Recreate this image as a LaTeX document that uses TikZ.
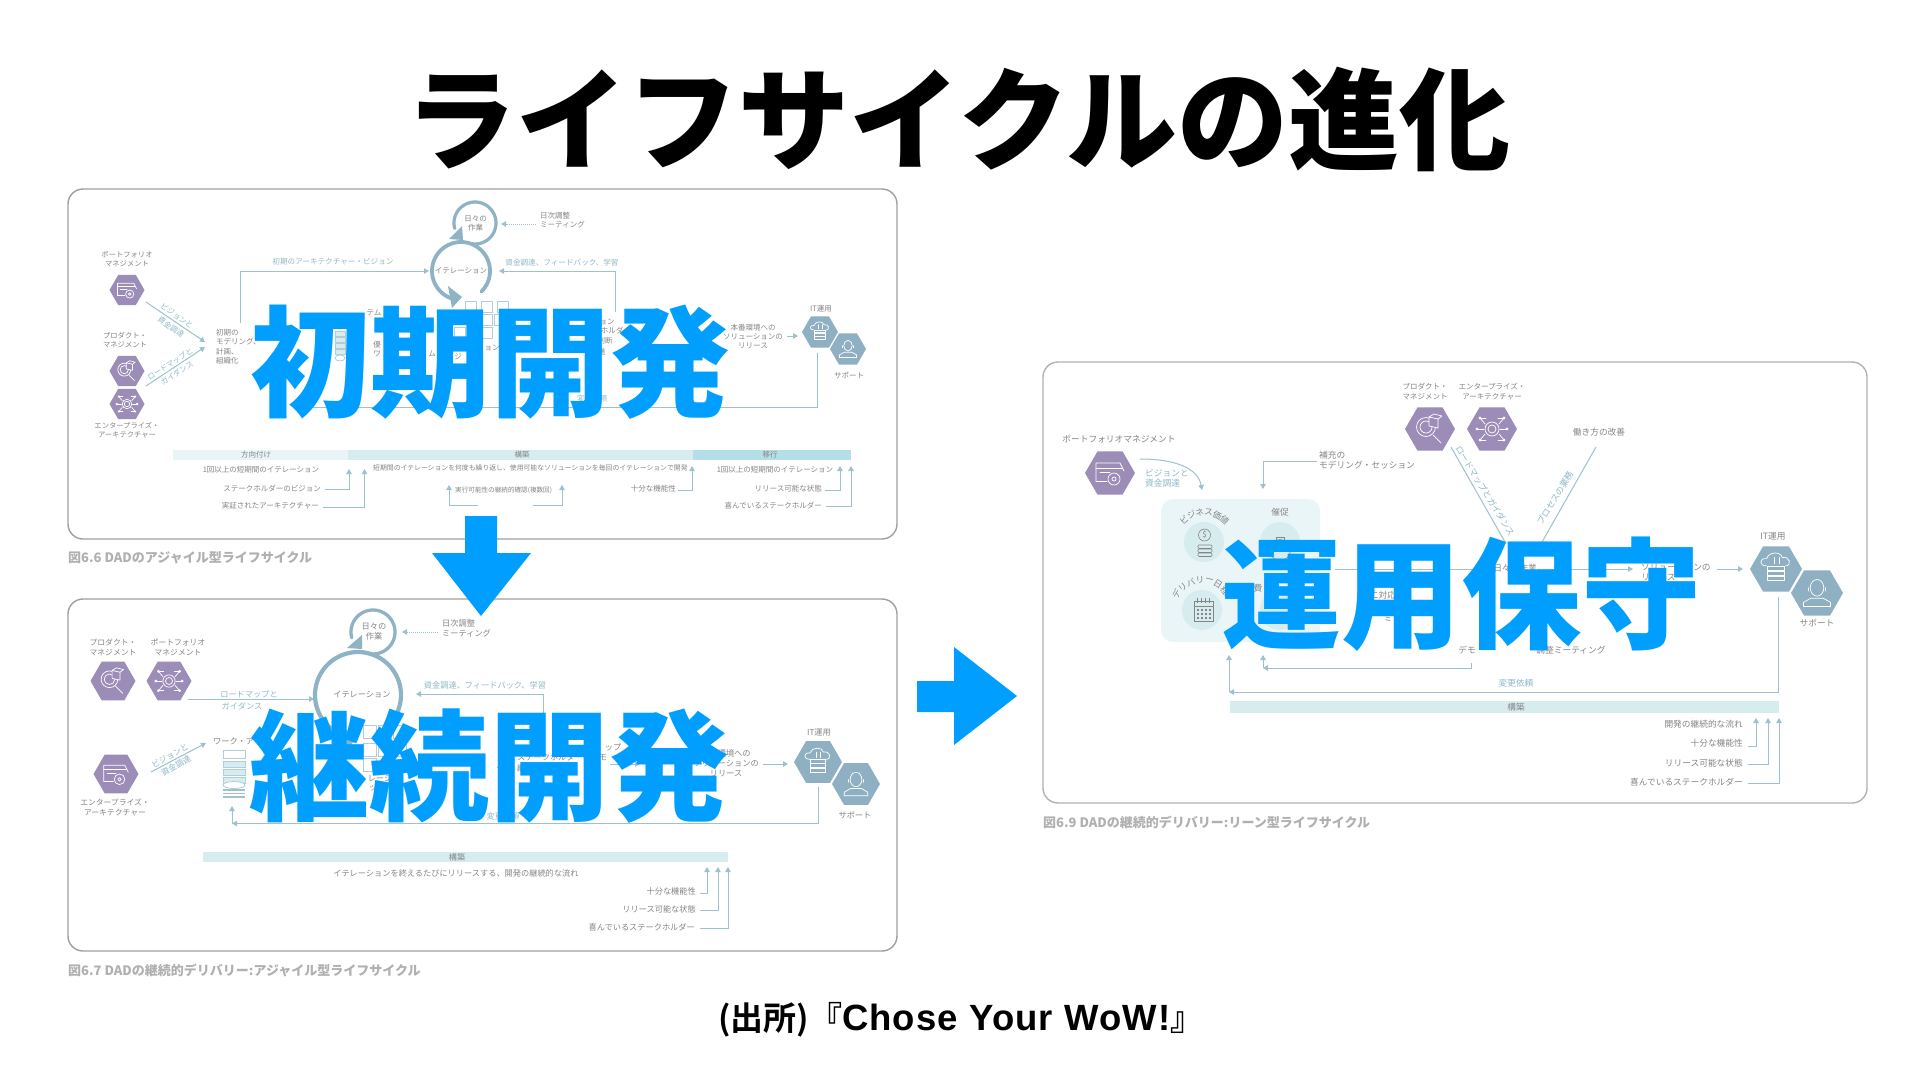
\documentclass[tikz,border=0pt]{standalone}
\usepackage{fontspec}
\usetikzlibrary{arrows.meta,shapes.geometric}
\setmainfont{Noto Sans CJK JP}
\newfontfamily\heavy{Noto Sans CJK JP Black}
\newfontfamily\boldf{Noto Sans CJK JP Bold}
\newfontfamily\latb{Liberation Sans Bold}[LetterSpace=3]
\definecolor{vio}{HTML}{9C8DB8}
\definecolor{steel}{HTML}{8FB0C3}
\definecolor{ln}{HTML}{9DC1CE}
\definecolor{lab}{HTML}{8FB8C8}
\definecolor{gr}{HTML}{858585}
\definecolor{ring}{HTML}{8DB3C5}
\definecolor{bigblue}{HTML}{009FFF}
\definecolor{barA}{HTML}{E8F4F6}
\definecolor{barB}{HTML}{D6ECEF}
\definecolor{barC}{HTML}{B5DFE8}
\definecolor{cap}{HTML}{B0B0B0}
\newcounter{tn}
\tikzset{
 txt/.style={inner sep=0pt,text=gr,align=center},
 sA/.style={txt,font=\fontsize{7.5}{9}\selectfont},
 sB/.style={txt,font=\fontsize{8.2}{10}\selectfont},
 sC/.style={txt,font=\fontsize{8.7}{10}\selectfont},
 nA/.style={txt,font=\fontsize{7.3}{9}\selectfont},
 nB/.style={txt,font=\fontsize{7.8}{10}\selectfont},
 nC/.style={txt,font=\fontsize{7.5}{10}\selectfont},
 lA/.style={sA,text=lab},
 lB/.style={sB,text=lab},
 lC/.style={sC,text=lab},
 panelbox/.style={draw=#1,line width=1.4pt,rounded corners=15pt,fill=white},
 hexv/.style={regular polygon,regular polygon sides=6,fill=vio,inner sep=0pt,minimum size=#1},
 hexs/.style={regular polygon,regular polygon sides=6,fill=steel,inner sep=0pt,minimum size=#1},
 conn/.style={draw=ln,line width=1pt},
 tip/.style={conn,-{Triangle[length=5pt,width=5.5pt]}},
 ic/.style={draw=white,line width=.7pt,line cap=round,line join=round},
 icd/.style={draw=gr,line width=.6pt},
 box/.style={draw=ln!80,line width=.8pt,fill=white},
 bigt/.style={inner sep=0pt,text=bigblue,font=\heavy\fontsize{120}{120}\selectfont},
 captxt/.style={inner sep=0pt,text=cap,anchor=west,font=\heavy\fontsize{13}{14}\selectfont},
}
\newcommand\tx[4][sA]{\stepcounter{tn}\node[#1] (t\arabic{tn}) at (#2,#3) {#4};}
\newcommand\cnA[3][tip]{\stepcounter{tn}\coordinate (a\arabic{tn}) at (#2);\coordinate (b\arabic{tn}) at (#3);\draw[#1] (a\arabic{tn}) -- (b\arabic{tn});}
\newcommand\cnB[4][tip]{\stepcounter{tn}\coordinate (a\arabic{tn}) at (#2);\coordinate (m\arabic{tn}) at (#3);\coordinate (b\arabic{tn}) at (#4);\draw[#1] (a\arabic{tn}) -- (m\arabic{tn}) -- (b\arabic{tn});}
\newcommand\ringarc[6]{\draw[draw=ring,line width=#6pt,line cap=round,domain=#4:#5,samples=60,variable=\t] plot ({#1+#3*cos(\t)},{#2+#3*sin(\t)});}
\newcommand\arctext[6]{\foreach \c [count=\i] in {#6}{\pgfmathsetmacro\aa{#4+(\i-1)*#5}\stepcounter{tn}\node[sC,rotate=-\aa] (t\arabic{tn}) at ({#1+#3*sin(\aa)},{#2-#3*cos(\aa)}) {\c};}}
% icons, drawn for a hexagon 50 wide
\newcommand\icfolder[2]{\begin{scope}[shift={(#1)},scale=#2]
 \draw[ic] (-14,8)--(-14,-10)--(10,-10)--(12,-6)--(14,-2);\draw[ic] (-14,-5)--(12,-5);\draw[ic] (-14,8)--(-3,8);\draw[ic] (-10,-1)--(0,-1);
 \draw[ic,fill=vio] (4,6) circle (6);\draw[ic] (4,6) circle (2);\end{scope}}
\newcommand\icmag[2]{\begin{scope}[shift={(#1)},scale=#2]
 \draw[ic] (-4,-2) circle (9.5);\draw[ic] (-4,-2) circle (6);\draw[ic] (3,6)--(11,14);\draw[ic,fill=vio] (-1,-12)--(8,-10)--(8,-1)--(-1,-3)--cycle;\draw[ic] (-1,-12)--(4,-15)--(12,-13)--(8,-10);\end{scope}}
\newcommand\icchip[2]{\begin{scope}[shift={(#1)},scale=#2]
 \draw[ic] (0,0) circle (4);\draw[ic] (0,0) circle (7);
 \foreach \a/\b/\c/\d in {-7/-5/-12/-11,7/-5/12/-11,-7/5/-12/11,7/5/12/11,-8/0/-15/0,8/0/15/0}{\draw[ic] (\a,\b)--(\c,\d);\draw[ic] (\c,\d) circle (1.2);}
 \draw[ic] (-12,-11)--(-6,-11);\draw[ic] (12,-11)--(6,-11);\draw[ic] (-12,11)--(-6,11);\draw[ic] (12,11)--(6,11);\end{scope}}
\newcommand\iccloud[2]{\begin{scope}[shift={(#1)},scale=#2]
 \draw[ic] (-9,-3) .. controls (-17,-3) and (-16,-11) .. (-9,-10) .. controls (-7,-17) and (5,-17) .. (6,-11) .. controls (13,-13) and (16,-3) .. (9,-3);
 \foreach \y in {-3,2,7}{\draw[ic] (-8,\y) rectangle (8,\y+4);}\draw[ic] (-2,-11)--(-2,-5);\draw[ic] (3,-11)--(3,-5);\end{scope}}
\newcommand\icperson[2]{\begin{scope}[shift={(#1)},scale=#2]
 \draw[ic] (0,-5) ellipse (6.5 and 8);\draw[ic] (-8,-5)--(-8,-2);\draw[ic] (8,-5)--(8,-2);
 \draw[ic] (-13,13)--(-13,9)--(-6,5)--(6,5)--(13,9)--(13,13)--cycle;\end{scope}}
\begin{document}
\begin{tikzpicture}[x=1pt,y=-1pt]
\useasboundingbox (0,0) rectangle (1920,1080);
\fill[white] (0,0) rectangle (1920,1080);
% ---------- panels
\node[inner sep=0pt,font=\heavy\fontsize{111}{111}\selectfont] (title) at (958,119) {ライフサイクルの進化};
\draw[panelbox=gray!75] (68,189) rectangle (897,539);
\draw[panelbox=gray!75] (68,599) rectangle (897,951);
\draw[panelbox=gray!60] (1043,362) rectangle (1867,803);
\node[captxt] (cap1) at (68,558) {図6.6 DADのアジャイル型ライフサイクル};
\node[captxt] (cap2) at (68,970) {図6.7 DADの継続的デリバリー:アジャイル型ライフサイクル};
\node[captxt] (cap3) at (1043,822) {図6.9 DADの継続的デリバリー:リーン型ライフサイクル};
% ---------- panel 1
\node[hexv=35pt] (a1) at (127,290) {}; \icfolder{a1.center}{.68}
\node[hexv=35pt] (a2) at (127,371) {}; \icmag{a2.center}{.68}
\node[hexv=35pt] (a3) at (127,404) {}; \icchip{a3.center}{.68}
\tx[nA]{127}{259.5}{ポートフォリオ\\マネジメント}
\tx[nA]{125}{340.5}{プロダクト・\\マネジメント}
\tx[nA]{127}{430}{エンタープライズ・\\アーキテクチャー}
\cnA{146,302}{205,342}
\cnA{146,386}{205,347}
\tx[lA,rotate=-35]{177}{316}{ビジョンと}
\tx[lA,rotate=-35]{171}{327}{資金調達}
\tx[lA,rotate=33]{170}{364}{ロードマップと}
\tx[lA,rotate=33]{177}{373}{ガイダンス}
\stepcounter{tn}\node[sA,anchor=north west,align=left,font=\fontsize{7.5}{9.3}\selectfont] (t\arabic{tn}) at (216,329) {初期の\\モデリング、\\計画、\\組織化};
\cnB{240,323}{240,271}{429,271}
\tx[lA,font=\fontsize{7.6}{9}\selectfont]{333}{262}{初期のアーキテクチャー・ビジョン}
\ringarc{475}{223}{21}{100}{-195}{3.2}
\fill[ring] (462,226)--(463,240)--(449,239)--cycle;
\ringarc{461}{271}{29}{45}{-260}{3.8}
\fill[ring] (448,286)--(462,297)--(452,308)--cycle;
\tx{461}{271}{イテレーション}
\tx{475.5}{223}{日々の\\作業}
\cnA[tip,densely dotted]{536,224}{501,224}
\stepcounter{tn}\node[sA,anchor=west,align=left] (t\arabic{tn}) at (540,220.5) {日次調整\\ミーティング};
\tx[lA,font=\fontsize{7.6}{9}\selectfont]{562}{263}{資金調達、フィードバック、学習}
\cnB{615,312}{615,271}{499,271}
\foreach \x/\y in {471/307,487/307,503/307,487/320,500/320,460/333,487/333}{\draw[box] (\x-5.5,\y-5.5) rectangle (\x+5.5,\y+5.5);}
\foreach \y in {331,337,343,349}{\draw[box,fill=barB] (335,\y) rectangle (345,\y+5);}
\draw[box] (340,358) ellipse (5 and 3);
\tx{374}{313}{テム}
\tx{377}{345}{優}
\tx{377}{354}{ワ}
\tx{432}{354}{ム}
\tx{458}{357}{ジ}
\tx{492}{348}{ョン}
\tx{607}{322}{ョン}
\tx{612}{331}{ホルダ}
\tx{605}{341}{判断}
\tx{598}{352}{の進}
\tx{753}{336}{本番環境への\\ソリューションの\\リリース}
\cnA{787,336}{798,336}
\node[hexs=36pt] (a4) at (820,332) {}; \iccloud{a4.center}{.66}
\node[hexs=36pt] (a5) at (848,349) {}; \icperson{a5.center}{.66}
\tx{821}{309}{IT運用}
\tx{849}{375}{サポート}
\cnB{817,353}{817,407}{300,407}
\tx[lA]{592}{399}{変更依頼}
\fill[barA] (173,450) rectangle (348,460);
\fill[barB] (348,450) rectangle (693,460);
\fill[barC] (693,450) rectangle (851,460);
\tx{256}{455}{方向付け}\tx{522}{455}{構築}\tx{770}{455}{移行}
\tx{261}{470}{1回以上の短期間のイテレーション}
\tx{775}{470}{1回以上の短期間のイテレーション}
\tx[sA,anchor=west,font=\fontsize{6.85}{8}\selectfont]{373}{468}{短期間のイテレーションを何度も繰り返し、使用可能なソリューションを毎回のイテレーションで開発}
\tx[sA,anchor=east]{321}{489}{ステークホルダーのビジョン}
\tx[sA,anchor=east]{319}{506}{実証されたアーキテクチャー}
\tx[sA,anchor=west,font=\fontsize{6.6}{8}\selectfont]{455}{490}{実行可能性の継続的確認(複数回)}
\tx[sA,anchor=east]{676}{489}{十分な機能性}
\tx[sA,anchor=east]{822}{489}{リリース可能な状態}
\tx[sA,anchor=east]{822}{506}{喜んでいるステークホルダー}
\cnB{325,489}{349,489}{349,469}
\cnB{323,507}{364.5,507}{364.5,469}
\cnB{478,505}{449,505}{449,485}
\cnB{533,505}{562,505}{562,485}
\cnB{678,490}{692,490}{692,466}
\cnB{825,490}{840,490}{840,466}
\cnB{826,506}{851,506}{851,466}
% ---------- panel 2
\node[hexv=45pt] (b1) at (113,681) {}; \icmag{b1.center}{.88}
\node[hexv=45pt] (b2) at (169,681) {}; \icchip{b2.center}{.88}
\node[hexv=45pt] (b3) at (116,774) {}; \icfolder{b3.center}{.88}
\tx[nB]{113}{647}{プロダクト・\\マネジメント}
\tx[nB]{178}{647}{ポートフォリオ\\マネジメント}
\tx[nB]{115}{807.5}{エンタープライズ・\\アーキテクチャー}
\cnA{188,699}{314,699}
\tx[lB]{249}{694}{ロードマップと}
\tx[lB]{242}{706}{ガイダンス}
\cnA{151,772}{206,743}
\tx[lB,rotate=30]{170}{756}{ビジョンと}
\tx[lB,rotate=30]{176}{766}{資金調達}
\ringarc{373}{632}{22}{100}{-195}{3.3}
\fill[ring] (362,635)--(362,649)--(347,648)--cycle;
\ringarc{358}{695}{43}{40}{-250}{4.2}
\fill[ring] (338,724)--(358,738)--(343,752)--cycle;
\tx[sB]{362}{695}{イテレーション}
\tx[sB]{374}{632}{日々の\\作業}
\cnA[tip,densely dotted]{438,632}{402,632}
\stepcounter{tn}\node[sB,anchor=west,align=left] (t\arabic{tn}) at (442,628) {日次調整\\ミーティング};
\tx[lB]{485}{685}{資金調達、フィードバック、学習}
\cnB{543,713}{543,694}{416,694}
\foreach \x/\y in {370/732,385/732,400/732,370/750,385/750,400/750,370/765}{\draw[box] (\x-6.5,\y-6.5) rectangle (\x+6.5,\y+6.5);}
\tx[sB,anchor=west]{213}{741}{ワーク・ア}
\draw[box] (223,750) rectangle (245,758);
\foreach \y in {761,769,777}{\draw[box,fill=barB] (223,\y) rectangle (245,\y+6);}
\draw[box] (234,785) ellipse (11 and 3.5);
\foreach \y in {790,793.5,797}{\draw[ln,line width=1.5pt] (223,\y)--(245,\y);}
\cnB{818,787}{818,823.5}{232,823.5}
\cnA{232,823.5}{232,806}
\tx[lB]{503}{816}{変更依頼}
\tx[sB]{380}{778}{レーシ}
\tx[sB]{377}{787}{ック}
\tx[sB,anchor=west]{517}{757.5}{ステークホルダーへ}
\tx[sB,anchor=west]{517}{768}{継}
\tx[sB]{613}{747}{ップ}
\tx[sB]{603}{758}{モ}
\tx[sB]{726}{763.5}{本番環境への\\ソリューションの\\リリース}
\cnA{497,767}{510,767}
\cnA{610,764}{640,764}
\cnA{763,764}{788,764}
\node[hexs=48pt] (b4) at (818,762) {}; \iccloud{b4.center}{.9}
\node[hexs=48pt] (b5) at (856,784) {}; \icperson{b5.center}{.9}
\tx[sB]{819}{732}{IT運用}
\tx[sB]{855}{815}{サポート}
\fill[barB] (203,852) rectangle (728,862);
\tx[sB]{457}{857}{構築}
\tx[sB]{456}{873}{イテレーションを終えるたびにリリースする、開発の継続的な流れ}
\tx[sB,anchor=east]{696}{891}{十分な機能性}
\tx[sB,anchor=east]{696}{909}{リリース可能な状態}
\tx[sB,anchor=east]{695}{927}{喜んでいるステークホルダー}
\cnB{700,893}{707,893}{707,867}
\cnB{700,910}{718,910}{718,867}
\cnB{700,928}{728,928}{728,867}
% ---------- panel 3
\node[hexv=50pt] (c1) at (1110,473) {}; \icfolder{c1.center}{1}
\node[hexv=50pt] (c2) at (1430,429) {}; \icmag{c2.center}{1}
\node[hexv=50pt] (c3) at (1492,429) {}; \icchip{c3.center}{1}
\tx[sC]{1119}{439}{ポートフォリオマネジメント}
\tx[nC]{1425}{391}{プロダクト・\\マネジメント}
\tx[nC]{1492}{391.5}{エンタープライズ・\\アーキテクチャー}
\tx[sC]{1599}{432}{働き方の改善}
\stepcounter{tn}\coordinate (a\arabic{tn}) at (1140,459);\coordinate (b\arabic{tn}) at (1202,490);
\draw[tip] (a\arabic{tn}) .. controls (1175,459) and (1198,468) .. (b\arabic{tn});
\stepcounter{tn}\node[lC,anchor=west,align=left] (t\arabic{tn}) at (1145,478) {ビジョンと\\資金調達};
\cnB{1317,461}{1263,461}{1263,489}
\stepcounter{tn}\node[sC,anchor=west,align=left] (t\arabic{tn}) at (1319,460) {補充の\\モデリング・セッション};
\cnA[conn]{1451,447}{1505,542}
\cnA[conn]{1596,447}{1542,542}
\tx[lC,rotate=-58.5]{1485}{491}{ロードマップとガイダンス}
\tx[lC,rotate=58.5]{1555}{498}{プロセスの業務}
\fill[barA!90] (1161,499) [rounded corners=12pt] rectangle (1320,642);
\foreach \x/\y in {1204/542,1280/542,1202/610,1280/610}{\fill[barB] (\x,\y) circle (20);}
\arctext{1204}{542}{30}{-42}{17}{ビ,ジ,ネ,ス,価,値}
\arctext{1202}{610}{30}{-58}{18}{デ,リ,バ,リ,ー,日,程}
\tx[sC]{1280}{512}{催促}
\tx[sC]{1258}{588}{費}
% dollar icon
\draw[icd] (1204.5,535) circle (6);\tx[sC,font=\fontsize{8}{9}\selectfont]{1204.5}{535}{\$}
\foreach \y in {545,549,553}{\draw[icd,rounded corners=1pt] (1198,\y) rectangle (1212,\y+3.5);}
% stopwatch
\draw[icd] (1280,550) circle (10.5);\draw[icd] (1276,537) rectangle (1284,540);\draw[icd] (1280,540)--(1280,543);
% calendar
\draw[icd] (1194,601) rectangle (1213,621);\draw[icd] (1194,606)--(1213,606);
\foreach \x in {1197,1201,1205,1209}{\draw[icd] (\x,598)--(\x,603);\foreach \y in {609,613,617}{\fill[gr] (\x,\y) rectangle +(2,2);}}
\cnA{1335,569}{1633,569}
\tx[sC,fill=white]{1515}{568}{日々の作業}
\tx[sC,anchor=west]{1641}{567}{ソリューションの}
\tx[sC,anchor=west]{1641}{577}{リリース}
\cnA{1717,569}{1743,569}
\node[hexs=52pt] (c4) at (1776,569) {}; \iccloud{c4.center}{1.04}
\node[hexs=52pt] (c5) at (1817,593) {}; \icperson{c5.center}{1.04}
\tx[sC]{1773}{536}{IT運用}
\tx[sC]{1817}{623}{サポート}
\tx[sC]{1383}{595}{に対応}
\tx[sC]{1397}{618}{ミング}
\tx[sC]{1467}{650}{デモ}
\tx[sC]{1571}{650}{調整ミーティング}
\tx[lC]{1516}{683}{変更依頼}
\cnB{1471,663}{1471,668}{1263,668}
\cnA{1263,668}{1263,655}
\cnB{1778,597}{1778,692}{1229,692}
\cnA{1229,692}{1229,655}
\fill[barB] (1230,701) rectangle (1779,713);
\tx[sC]{1516}{707}{構築}
\tx[sC,anchor=east]{1743}{724}{開発の継続的な流れ}
\tx[sC,anchor=east]{1743}{743}{十分な機能性}
\tx[sC,anchor=east]{1743}{763}{リリース可能な状態}
\tx[sC,anchor=east]{1743}{782}{喜んでいるステークホルダー}
\cnB{1748,746}{1756,746}{1756,718}
\cnB{1748,764}{1768,764}{1768,718}
\cnB{1748,783}{1779,783}{1779,718}
% ---------- big overlays
\node[bigt] (big1) at (490,362) {初期開発};
\node[bigt] (big2) at (489,766) {継続開発};
\node[bigt] (big3) at (1461,594.5) {運用保守};
\fill[bigblue] (465,516)--(497,516)--(497,553)--(531,553)--(481,616)--(432,553)--(465,553)--cycle;
\fill[bigblue] (917,681)--(954,681)--(954,647)--(1017,696)--(954,745)--(954,712)--(917,712)--cycle;
\node[inner sep=0pt,anchor=west,font=\boldf\fontsize{33}{34}\selectfont] (src) at (718,1020) {(出所)『{\latb\fontsize{36.5}{36}\selectfont Chose Your WoW!}』};
\end{tikzpicture}
\end{document}
